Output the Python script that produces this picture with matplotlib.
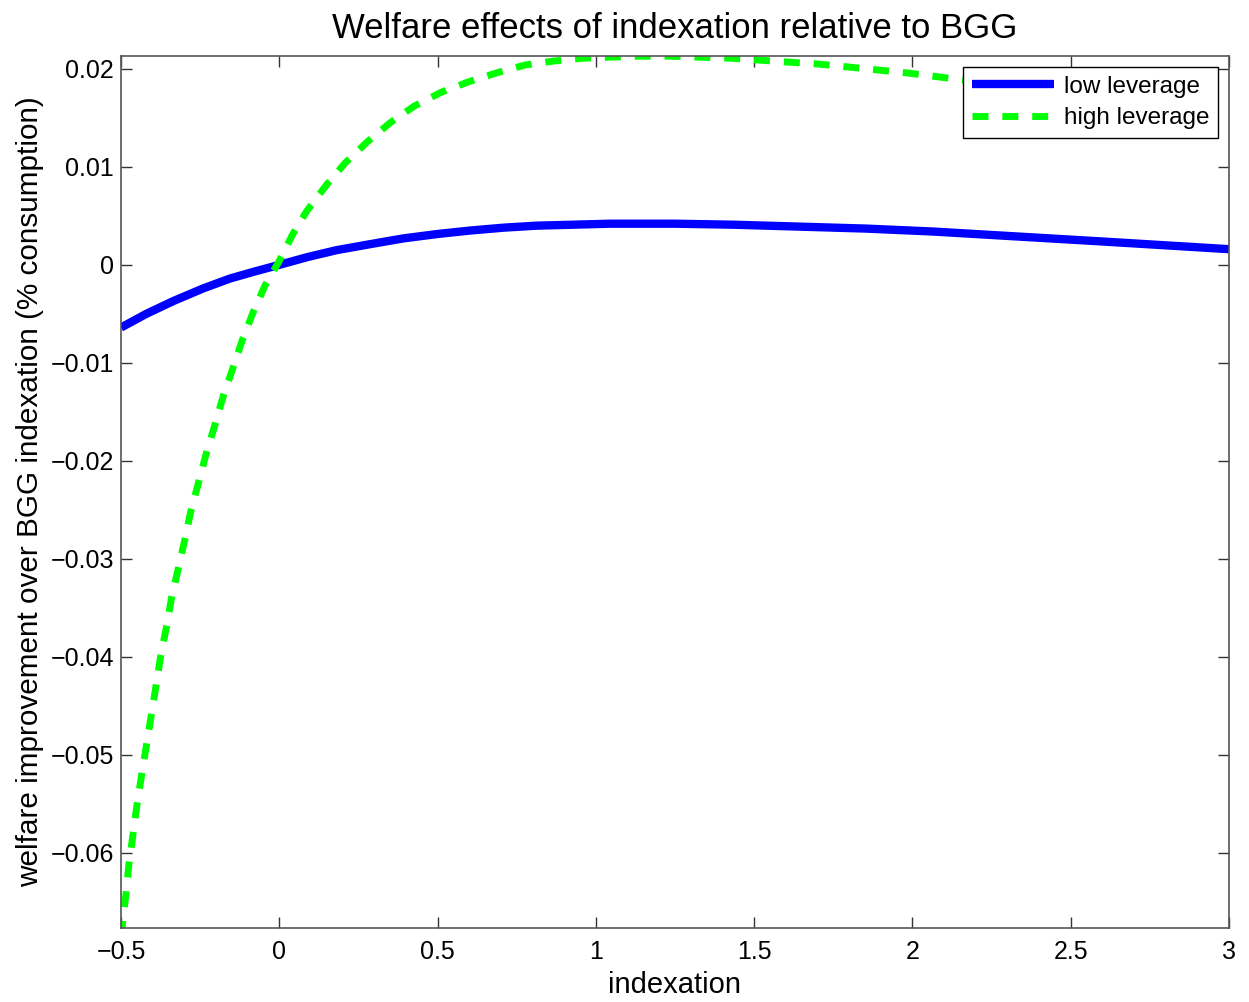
import matplotlib
matplotlib.use('Agg')
import matplotlib.pyplot as plt

# values
x_low = [-0.5, -0.42, -0.335, -0.240, -0.156, -0.080, 0.0, 0.090, 0.181, 0.285, 0.392,
         0.500, 0.602, 0.710, 0.813, 0.930, 1.045, 1.250, 1.433, 1.645, 1.855, 2.066,
         2.276, 2.592, 3.0]
y_low = [-0.0064, -0.0050, -0.0037, -0.0024, -0.0014, -0.0007, 0.0, 0.0008, 0.0015, 0.0021, 0.0027,
         0.00315, 0.0035, 0.0038, 0.0040, 0.0041, 0.0042, 0.0042, 0.0041, 0.0039, 0.0037, 0.0034,
         0.0030, 0.0024, 0.0016]

x_high = [-0.5, -0.494, -0.484, -0.475, -0.462, -0.449, -0.434, -0.389, -0.375, -0.356,
          -0.340, -0.319, -0.298, -0.280, -0.254, -0.232, -0.203, -0.177, -0.145, -0.116,
          -0.082, -0.045, 0.0, 0.042, 0.087, 0.150, 0.208, 0.276, 0.350, 0.426, 0.510,
          0.599, 0.687, 0.776, 0.865, 0.960, 1.044, 1.139, 1.234, 1.329, 1.424, 1.516,
          1.608, 1.703, 1.797, 1.889, 1.982, 2.129, 2.500, 3.0]
y_high = [-0.0686, -0.0669, -0.0641, -0.0612, -0.0581, -0.0550, -0.0519, -0.0429, -0.0400, -0.0369,
          -0.0339, -0.0310, -0.0280, -0.0252, -0.0221, -0.0194, -0.0163, -0.0134, -0.0104, -0.0076,
          -0.0048, -0.0021, 0.0004, 0.0031, 0.0055, 0.0082, 0.0104, 0.0125, 0.0145, 0.0162, 0.0176,
          0.0187, 0.0196, 0.0204, 0.0208, 0.0211, 0.0212, 0.0213, 0.0213, 0.0212, 0.0211, 0.0209,
          0.0207, 0.0205, 0.0202, 0.0199, 0.0196, 0.0190, 0.0175, 0.0155]

x_ticks = [-0.5, 0, 0.5, 1, 1.5, 2, 2.5, 3]
x_tick_labels = ['\u22120.5', '0', '0.5', '1', '1.5', '2', '2.5', '3']
y_ticks = [-0.06, -0.05, -0.04, -0.03, -0.02, -0.01, 0, 0.01, 0.02]
y_tick_labels = ['\u22120.06', '\u22120.05', '\u22120.04', '\u22120.03', '\u22120.02', '\u22120.01', '0', '0.01', '0.02']

plt.rcParams['font.family'] = ['Liberation Sans', 'DejaVu Sans']

fig = plt.figure(figsize=(12.49, 10.02), dpi=100)
ax = fig.add_axes([0.0969, 0.0739, 0.887, 0.870])

ax.plot(x_low, y_low, color='#0000ff', lw=6, solid_capstyle='butt',
        solid_joinstyle='round', label='low leverage')
ax.plot(x_high, y_high, color='#00ff00', lw=5, ls=(0, (2.3, 2.0)),
        dash_joinstyle='round', label='high leverage')

ax.set_xlim(-0.5, 3)
ax.set_ylim(-0.0677, 0.0213)
ax.set_xticks(x_ticks)
ax.set_xticklabels(x_tick_labels)
ax.set_yticks(y_ticks)
ax.set_yticklabels(y_tick_labels)
ax.tick_params(direction='in', top=True, right=True, length=8, width=1,
               labelsize=18, colors='#333333', labelcolor='black')
ax.tick_params(axis='x', pad=9)
ax.tick_params(axis='y', pad=5)
for s in ax.spines.values():
    s.set_color('#555555')
    s.set_linewidth(1.2)

ax.set_title('Welfare effects of indexation relative to BGG', fontsize=25, pad=13)
ax.set_xlabel('indexation', fontsize=21, labelpad=5)
ax.set_ylabel('welfare improvement over BGG indexation (% consumption)', fontsize=21.4, labelpad=5)

leg = ax.legend(loc='upper right', fontsize=17.5, fancybox=False, framealpha=1,
                edgecolor='black', handlelength=3.4, borderaxespad=0.45,
                borderpad=0.35, labelspacing=0.4, handletextpad=0.4)
leg.get_frame().set_linewidth(1.0)

fig.savefig('out.png', dpi=100, facecolor='white')
